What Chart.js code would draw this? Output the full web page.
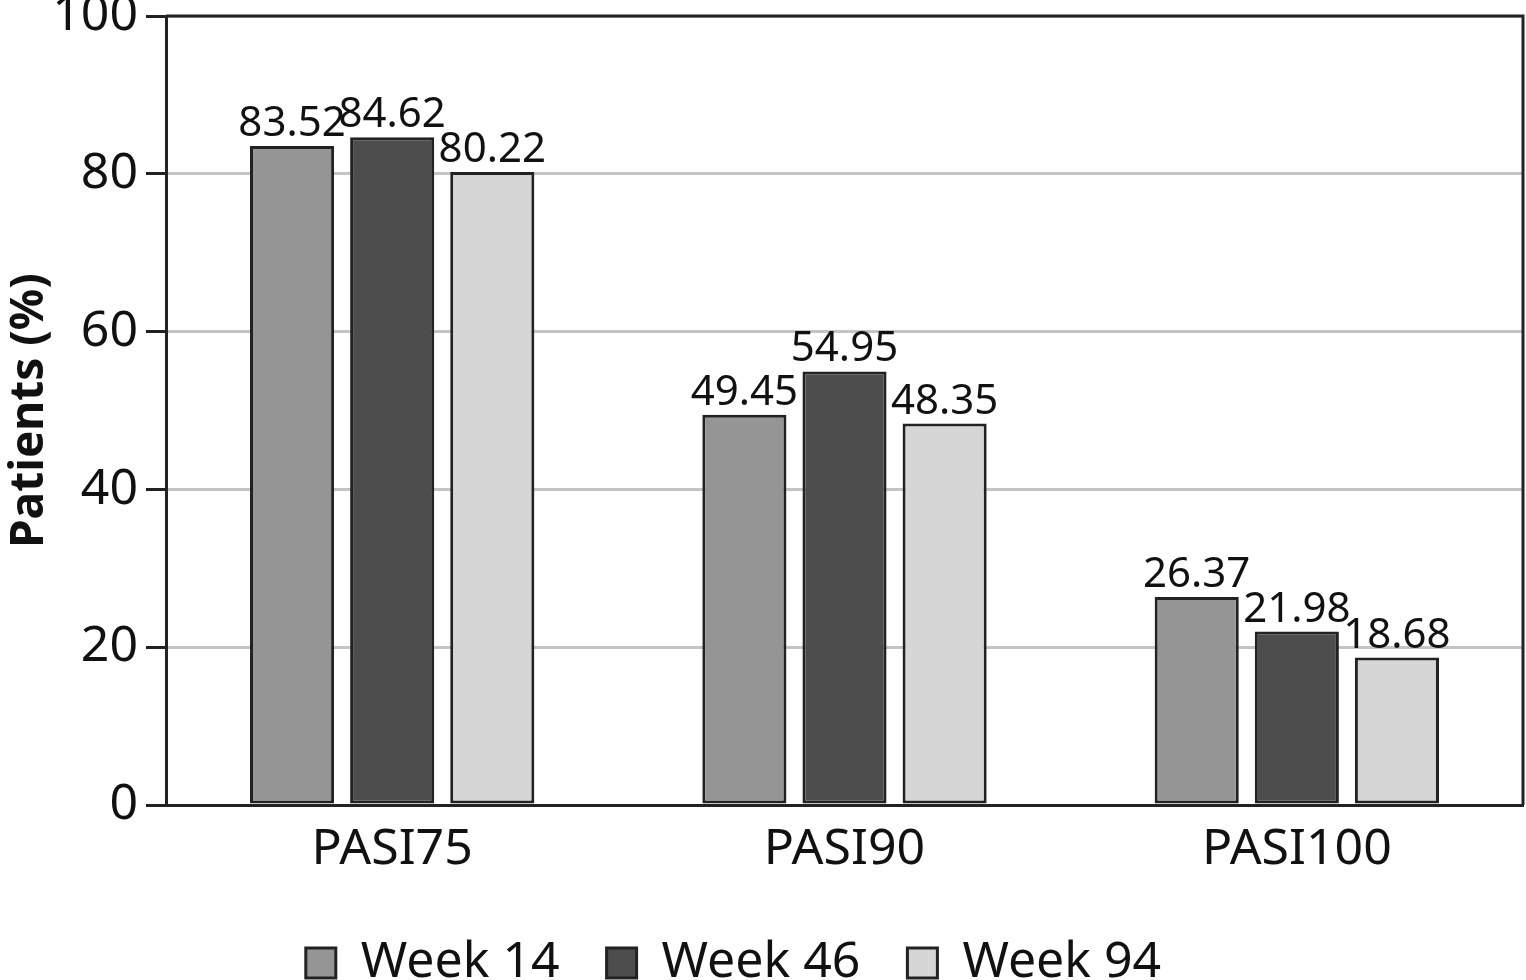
<!DOCTYPE html>
<html>
<head>
<meta charset="utf-8">
<script src="https://cdn.jsdelivr.net/npm/chart.js@4"></script>
<style>
  html, body { margin:0; padding:0; background:#fff; }
  #wrap { width:1526px; height:980px; }
</style>
</head>
<body>
<div id="wrap"><canvas id="pasiChart" width="1526" height="980"></canvas></div>
<script>
// ── Data ──────────────────────────────────────────────────
const CATEGORIES = ['PASI75', 'PASI90', 'PASI100'];
const WEEK14 = [83.52, 49.45, 26.37];
const WEEK46 = [84.62, 54.95, 21.98];
const WEEK94 = [80.22, 48.35, 18.68];
const SERIES_NAMES = ['Week 14', 'Week 46', 'Week 94'];
const Y_TICKS = [0, 20, 40, 60, 80, 100];

const FONT = "'Noto Sans', 'Open Sans', sans-serif";
const INK = '#222222';
const fills = ['#959595', '#4d4d4d', '#d6d6d6'];

// value labels over the bars
const barLabels = {
  id: 'barLabels',
  afterDatasetsDraw(chart) {
    const ctx = chart.ctx;
    ctx.save();
    ctx.font = '42px ' + FONT;
    ctx.fillStyle = '#111';
    ctx.textAlign = 'center';
    ctx.textBaseline = 'alphabetic';
    chart.data.datasets.forEach((ds, i) => {
      chart.getDatasetMeta(i).data.forEach((bar, j) => {
        ctx.fillText(ds.data[j].toFixed(2), bar.x, bar.y - 10);
      });
    });
    ctx.restore();
  }
};

// top + right frame lines
const frame = {
  id: 'frame',
  afterDraw(chart) {
    const a = chart.chartArea, ctx = chart.ctx;
    ctx.save();
    ctx.strokeStyle = INK;
    ctx.lineWidth = 3;
    ctx.beginPath();
    ctx.moveTo(a.left, a.top);
    ctx.lineTo(a.right, a.top);
    ctx.lineTo(a.right, a.bottom);
    ctx.stroke();
    ctx.restore();
  }
};

// legend sits a little left of the page centre
const legendShift = {
  id: 'legendShift',
  afterLayout(chart) {
    if (!chart.legend) return;
    chart.legend.left -= 28;
    chart.legend.right -= 28;
  }
};

const mkSet = (label, data, i) => ({
  label, data,
  backgroundColor: fills[i],
  borderColor: INK,
  borderWidth: 3,
  borderSkipped: false,
  categoryPercentage: 0.664,
  barPercentage: 0.84,
});

new Chart(document.getElementById('pasiChart'), {
  type: 'bar',
  data: {
    labels: CATEGORIES,
    datasets: [
      mkSet(SERIES_NAMES[0], WEEK14, 0),
      mkSet(SERIES_NAMES[1], WEEK46, 1),
      mkSet(SERIES_NAMES[2], WEEK94, 2),
    ]
  },
  options: {
    responsive: false,
    animation: false,
    layout: { padding: { top: 16, right: 3, left: 0, bottom: -18 } },
    plugins: {
      tooltip: { enabled: false },
      legend: {
        position: 'bottom',
        labels: {
          color: '#111',
          font: { family: FONT, size: 50 },
          boxWidth: 30, boxHeight: 30,
          padding: 47,
          generateLabels: chart => chart.data.datasets.map((ds, i) => ({
            text: ds.label, fillStyle: fills[i], strokeStyle: INK, lineWidth: 3,
            hidden: false, datasetIndex: i, fontColor: '#111'
          }))
        }
      }
    },
    scales: {
      x: {
        grid: { display: false },
        border: { display: true, color: INK, width: 3 },
        ticks: { color: '#111', font: { family: FONT, size: 50 }, padding: 7 },
        afterFit: s => { s.height = 86; }
      },
      y: {
        min: 0, max: 100,
        afterBuildTicks: s => { s.ticks = Y_TICKS.map(v => ({ value: v })); },
        grid: { color: '#c4c4c4', lineWidth: 3, tickColor: INK, tickLength: 20, drawTicks: true },
        border: { display: true, color: INK, width: 3 },
        ticks: { color: '#111', font: { family: FONT, size: 50 }, padding: 8 },
        title: {
          display: true, text: 'Patients (%)', color: '#111',
          font: { family: FONT, size: 46, weight: 'bold' },
          padding: { top: 2, bottom: 0 }
        },
        afterFit: s => { s.width = 166; s.paddingTop = 0; s.paddingBottom = 0; }
      }
    }
  },
  plugins: [barLabels, frame, legendShift]
});
</script>
</body>
</html>
